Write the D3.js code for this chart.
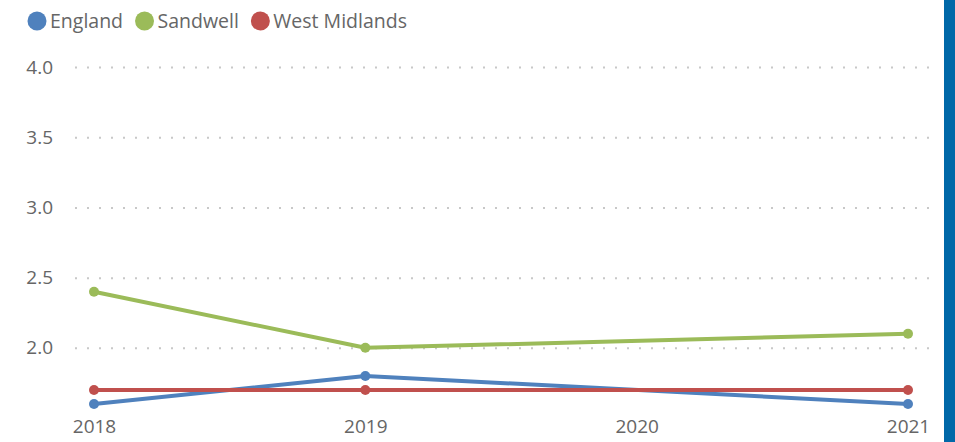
<!DOCTYPE html>
<html><head><meta charset="utf-8">
<script src="https://cdn.jsdelivr.net/npm/d3@7"></script>
<style>body{margin:0;background:#fff;}svg{display:block;font-family:"Open Sans",sans-serif;}</style>
</head><body>
<svg id="c" width="955" height="442"></svg>
<script>
const years = [2018, 2019, 2020, 2021];
const england = [1.6, 1.8, null, 1.6];
const sandwell = [2.4, 2.0, null, 2.1];
const westMidlands = [1.7, 1.7, null, 1.7];
const seriesNames = ["England", "Sandwell", "West Midlands"];
const seriesColors = ["#4F81BD", "#9BBB59", "#C0504D"];
const yTicks = [2.0, 2.5, 3.0, 3.5, 4.0];

const series = [england, sandwell, westMidlands].map((v, i) => ({
  name: seriesNames[i], color: seriesColors[i],
  pts: years.map((y, j) => ({x: y, v: v[j]})).filter(d => d.v != null)
}));

const svg = d3.select("#c");
svg.append("rect").attr("x", 944).attr("y", 0).attr("width", 11).attr("height", 442).attr("fill", "#0068A8");

const x = d3.scaleLinear().domain([2018, 2021]).range([94, 908]);
const y = d3.scaleLinear().domain([1.6, 4.0]).range([404, 67]);

const FONT = '"Open Sans", sans-serif';

// gridlines + y labels
const yAxis = d3.axisLeft(y).tickValues(yTicks).tickFormat(d3.format(".1f")).tickSize(-855).tickPadding(22);
const gy = svg.append("g").attr("transform", "translate(75,0)").call(yAxis)
  .attr("font-family", FONT);
gy.select(".domain").remove();
gy.selectAll(".tick line").attr("stroke", "#c8c8c8").attr("stroke-width", 2).attr("stroke-dasharray", "2,10");
gy.selectAll(".tick text").attr("fill", "#666").attr("font-size", 19).attr("x", -22);

const xAxis = d3.axisBottom(x).tickValues(years).tickFormat(d3.format("d")).tickSize(0).tickPadding(0);
const gx = svg.append("g").attr("transform", "translate(0,419)").call(xAxis)
  .attr("font-family", FONT);
gx.select(".domain").remove();
gx.selectAll(".tick text").attr("fill", "#666").attr("font-size", 19).attr("dy", "0.71em");

const line = d3.line().x(d => x(d.x)).y(d => y(d.v));
series.forEach(s => {
  svg.append("path").datum(s.pts).attr("d", line).attr("fill", "none")
    .attr("stroke", s.color).attr("stroke-width", 4).attr("stroke-linejoin", "round");
});
series.forEach(s => {
  svg.selectAll(null).data(s.pts).enter().append("circle")
    .attr("cx", d => x(d.x)).attr("cy", d => y(d.v)).attr("r", 5).attr("fill", s.color);
});

// legend
const lg = svg.append("g").attr("font-family", FONT);
let lx = 27.5;
series.forEach(s => {
  lg.append("circle").attr("cx", lx + 9.5).attr("cy", 21).attr("r", 9.5).attr("fill", s.color);
  const t = lg.append("text").attr("x", lx + 22.5).attr("y", 21).attr("dy", "0.35em")
    .attr("font-size", 19.5).attr("fill", "#666").text(s.name);
  lx += 22.5 + t.node().getComputedTextLength() + 12;
});
</script>
</body></html>
